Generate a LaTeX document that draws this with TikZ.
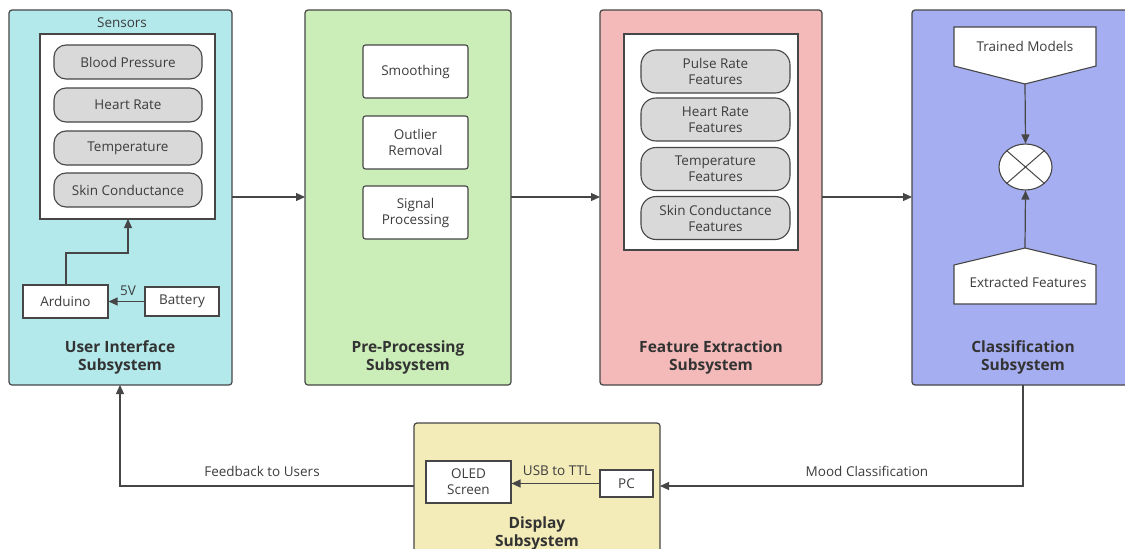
\documentclass[tikz,border=0pt]{standalone}
\usepackage{fontspec}
\setmainfont{Open Sans}
\usetikzlibrary{arrows.meta,shapes.geometric}
\definecolor{uic}{RGB}{180,233,235}
\definecolor{prec}{RGB}{203,237,183}
\definecolor{fec}{RGB}{244,185,185}
\definecolor{clc}{RGB}{166,174,242}
\definecolor{dic}{RGB}{243,235,184}
\definecolor{pillc}{RGB}{217,217,217}
\definecolor{linec}{RGB}{70,70,70}
\definecolor{txtc}{RGB}{60,60,60}
\begin{document}
\begin{tikzpicture}[x=1pt,y=-1pt,
  sub/.style={draw=linec,line width=1.2pt,rounded corners=3pt},
  wbox/.style={draw=linec,line width=1.1pt,fill=white},
  pill/.style={draw=linec,line width=1.1pt,fill=pillc,rounded corners=12pt},
  rbox/.style={draw=linec,line width=1.1pt,fill=white,rounded corners=2.5pt},
  lab/.style={text=txtc,font=\fontsize{13.5}{16}\selectfont,align=center},
  ttl/.style={text=black!80,font=\fontsize{15.5}{18}\selectfont\bfseries,align=center},
  conn/.style={draw=linec,line width=1.2pt,-{Triangle[length=9pt,width=8pt]}},
  plain/.style={draw=linec,line width=1.2pt}]
\useasboundingbox (0,0) rectangle (1125,549);
\begin{scope}
\clip (0,0) rectangle (1125,549);
% subsystem boxes
\path[sub,fill=uic] (9,10) rectangle (232,385);
\path[sub,fill=prec] (305,10) rectangle (511,385);
\path[sub,fill=fec] (600,10) rectangle (822,385);
\path[sub,fill=clc] (912,10) rectangle (1140,385);
\path[sub,fill=dic] (414,423) rectangle (660,560);
\end{scope}
\coordinate (uiR) at (232,197);
\coordinate (uiB) at (120,385);
\coordinate (ppL) at (305,197);
\coordinate (ppR) at (511,197);
\coordinate (feL) at (600,197);
\coordinate (feR) at (822,197);
\coordinate (clL) at (912,197);
\coordinate (clB) at (1023,385);
\coordinate (diL) at (414,486);
\coordinate (diR) at (660,486);
% UI subsystem
\node[lab] (sensl) at (122,23) {Sensors};
\node[wbox,minimum width=175pt,minimum height=185pt] (sens) at (127.5,126.5) {};
\node[pill,minimum width=148pt,minimum height=34pt,lab] (bp) at (128,62) {Blood Pressure};
\node[pill,minimum width=148pt,minimum height=34pt,lab] (hr) at (128,105) {Heart Rate};
\node[pill,minimum width=148pt,minimum height=34pt,lab] (tp) at (128,148) {Temperature};
\node[pill,minimum width=148pt,minimum height=34pt,lab] (sc) at (128,190) {Skin Conductance};
\node[wbox,minimum width=85pt,minimum height=33pt,lab] (ard) at (65.5,301.5) {Arduino};
\node[wbox,minimum width=74pt,minimum height=29pt,lab] (bat) at (182,301.5) {Battery};
\draw[conn] (bat.west) -- (ard.east);
\node[lab] (v5) at (128,291) {5V};
\draw[conn] (66,285) |- (128,253) -- (128,219);
\node[ttl] (uit) at (120,357) {User Interface\\Subsystem};
% Pre-processing
\node[rbox,minimum width=105pt,minimum height=53pt,lab] (smo) at (415.5,71.5) {Smoothing};
\node[rbox,minimum width=105pt,minimum height=53pt,lab] (out) at (415.5,142.5) {Outlier\\Removal};
\node[rbox,minimum width=105pt,minimum height=53pt,lab] (sig) at (415.5,212.5) {Signal\\Processing};
\node[ttl] (ppt) at (408,357) {Pre-Processing\\Subsystem};
% Feature extraction
\node[wbox,minimum width=174pt,minimum height=216pt] (feb) at (711,142) {};
\node[pill,minimum width=149pt,minimum height=43pt,lab,rounded corners=15pt,inner sep=1pt] (f1) at (715.5,71.5) {Pulse Rate\\Features};
\node[pill,minimum width=149pt,minimum height=43pt,lab,rounded corners=15pt,inner sep=1pt] (f2) at (715.5,119.5) {Heart Rate\\Features};
\node[pill,minimum width=149pt,minimum height=43pt,lab,rounded corners=15pt,inner sep=1pt] (f3) at (715.5,169) {Temperature\\Features};
\node[pill,minimum width=149pt,minimum height=43pt,lab,rounded corners=15pt,inner sep=1pt] (f4) at (715.5,218) {Skin Conductance\\Features};
\node[ttl] (fet) at (711,357) {Feature Extraction\\Subsystem};
% Classification
\path[draw=linec,line width=1.1pt,fill=white] (954,27) -- (1096,27) -- (1096,66) -- (1025,84) -- (954,66) -- cycle;
\node[lab] (tm) at (1025,46) {Trained Models};
\coordinate (tmB) at (1025,84);
\path[draw=linec,line width=1.1pt,fill=white] (954,304) -- (1096,304) -- (1096,265) -- (1025,248) -- (954,265) -- cycle;
\node[lab] (ef) at (1028,282) {Extracted Features};
\coordinate (efT) at (1025,248);
\node[ellipse,draw=linec,line width=1.1pt,fill=white,minimum width=53pt,minimum height=46pt,inner sep=0pt] (mul) at (1025.5,167) {};
\draw[linec,line width=1pt] (mul.north west) -- (mul.south east) (mul.north east) -- (mul.south west);
\draw[conn] (tmB) -- (mul.north);
\draw[conn] (efT) -- (mul.south);
\node[ttl] (clt) at (1023,357) {Classification\\Subsystem};
% Display
\node[wbox,minimum width=85pt,minimum height=42pt,lab] (oled) at (468.5,482) {OLED\\Screen};
\node[wbox,minimum width=53pt,minimum height=27pt,lab] (pc) at (626.5,483.5) {PC};
\draw[conn] (pc.west) -- (oled.east |- pc.west);
\node[lab] (usb) at (557,471) {USB to TTL};
\node[ttl] (dit) at (537,533) {Display\\Subsystem};
% main flow
\draw[conn] (uiR) -- (ppL);
\draw[conn] (ppR) -- (feL);
\draw[conn] (feR) -- (clL);
\draw[conn] (clB) |- (diR);
\node[lab] (moodl) at (867,471) {Mood Classification};
\draw[conn] (diL) -| (uiB);
\node[lab] (fbl) at (262,471) {Feedback to Users};
\end{tikzpicture}
\end{document}
